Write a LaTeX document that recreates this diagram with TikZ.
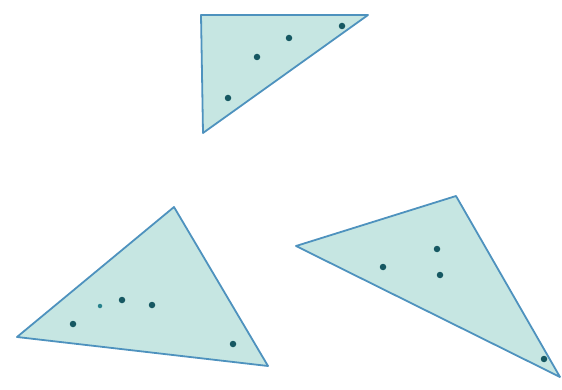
\documentclass[tikz,border=0pt]{standalone}
\begin{document}
\begin{tikzpicture}[x=1pt,y=-1pt,
  tri/.style={draw=edgeblue,line width=1.8pt,fill=triteal,line join=round},
  pt/.style={circle,fill=dotteal,inner sep=0pt,minimum size=6.5pt},
  spt/.style={circle,fill=smallteal,inner sep=0pt,minimum size=4.5pt}]
\definecolor{edgeblue}{RGB}{78,146,190}
\definecolor{triteal}{RGB}{198,230,226}
\definecolor{dotteal}{RGB}{22,88,98}
\definecolor{smallteal}{RGB}{40,130,140}
\useasboundingbox (0,0) rectangle (562,390);
% top triangle
\coordinate (a1) at (201,15);
\coordinate (a2) at (368,15);
\coordinate (a3) at (203,133);
\draw[tri] (a1) -- (a2) -- (a3) -- cycle;
\node[pt] (p1) at (342,26) {};
\node[pt] (p2) at (289,38) {};
\node[pt] (p3) at (257,57) {};
\node[pt] (p4) at (228,98) {};
% bottom-left triangle
\coordinate (b1) at (17,337);
\coordinate (b2) at (174,207);
\coordinate (b3) at (268,366);
\draw[tri] (b1) -- (b2) -- (b3) -- cycle;
\node[pt] (q1) at (73,324) {};
\node[pt] (q2) at (122,300) {};
\node[pt] (q3) at (152,305) {};
\node[pt] (q4) at (233,344) {};
\node[spt] (q5) at (100,306) {};
% bottom-right triangle
\coordinate (c1) at (296,246);
\coordinate (c2) at (456,196);
\coordinate (c3) at (560,377);
\draw[tri] (c1) -- (c2) -- (c3) -- cycle;
\node[pt] (r1) at (383,267) {};
\node[pt] (r2) at (437,249) {};
\node[pt] (r3) at (440,275) {};
\node[pt] (r4) at (544,359) {};
\end{tikzpicture}
\end{document}
